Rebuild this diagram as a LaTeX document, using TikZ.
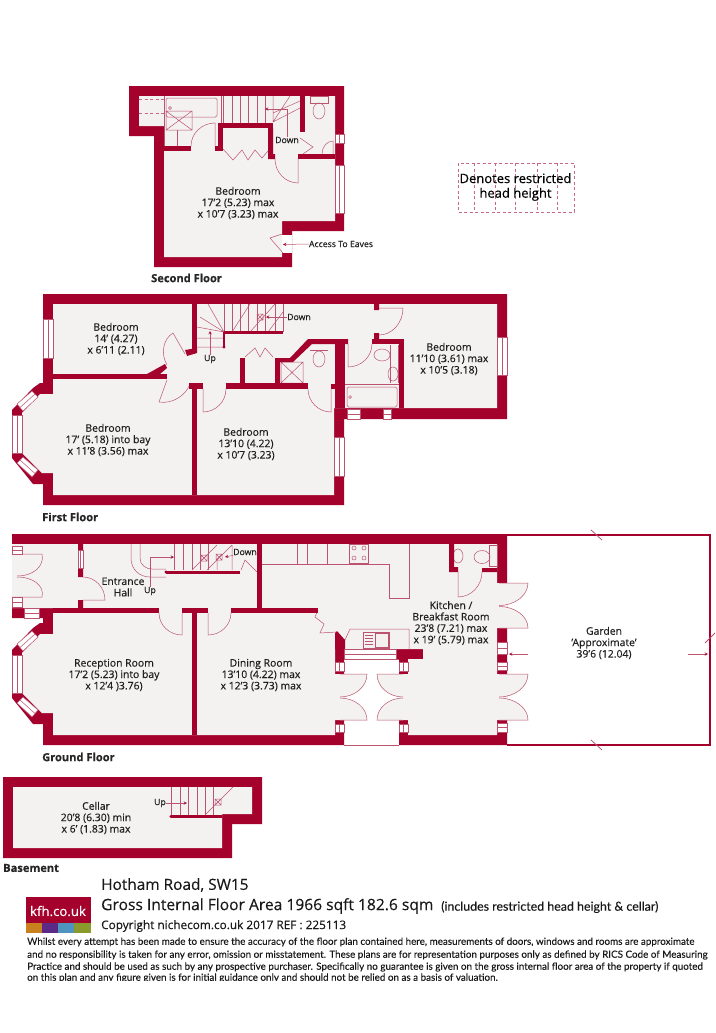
\documentclass[tikz,border=0pt]{standalone}
\usepackage{fontspec}
\defaultfontfeatures{}
\setmainfont{Open Sans}[FakeBold=0.35]
\newfontfamily\footfont{Lato}[FakeBold=0.2]
\usetikzlibrary{calc}
\definecolor{wallred}{HTML}{A5012D}
\definecolor{planred}{HTML}{BC5470}
\definecolor{floorgrey}{HTML}{F3F2F1}
\definecolor{eavepink}{HTML}{C9678A}
\begin{document}
\begin{tikzpicture}[x=1pt,y=-1pt,>=stealth]
 \tikzstyle{wall} = [fill=wallred,draw=none]
 \tikzstyle{floorarea} = [fill=floorgrey,draw=none]
 \tikzstyle{plan} = [draw=planred,line width=0.5pt]
 \tikzstyle{doorline} = [draw=planred,line width=0.5pt,fill=floorgrey]
 \tikzstyle{leader} = [draw=planred,line width=0.5pt,->,>={stealth[wallred]}]
 \tikzstyle{winline} = [draw=planred,line width=0.5pt,fill=white]
 \tikzstyle{roomlabel} = [align=center,inner sep=0,text=black!88,font=\fontsize{10.4}{11.4}\selectfont]
 \tikzstyle{smalllabel} = [inner sep=0,text=black!88,font=\fontsize{8.7}{10}\selectfont]
 \tikzstyle{floorlabel} = [inner sep=0,anchor=west,text=black!85,font=\fontsize{11.1}{13}\bfseries\selectfont]
 \tikzstyle{foottext} = [inner sep=0,anchor=west,text=black!90,font=\footfont\fontsize{9.85}{11}\selectfont]
 \tikzstyle{eaves} = [draw=eavepink,line width=0.6pt,dashed,dash pattern=on 3pt off 2.5pt]
 \newcommand{\doorarc}[3]{\draw[doorline] (#1) -- (#2) .. controls ($(#2)+0.55*(#3)-0.55*(#1)$) and ($(#3)+0.55*(#2)-0.55*(#1)$) .. (#3);}
 \newcommand{\winv}[4]{\draw[winline] (#1,#2) rectangle (#3,#4); \draw[plan] ({(#1+#3)/2},#2) -- ({(#1+#3)/2},#4);}
 \newcommand{\winh}[4]{\draw[winline] (#1,#2) rectangle (#3,#4); \draw[plan] (#1,{(#2+#4)/2}) -- (#3,{(#2+#4)/2});}
 \newcommand{\bayglass}[1]{
  \winv{12}{#1+415}{22}{#1+453}
  \draw[winline] (17,#1+404) -- (32,#1+391) -- (38,#1+397) -- (23,#1+411) -- cycle;
  \draw[plan] (20,#1+407.5) -- (35,#1+394);
  \draw[winline] (17,#1+463) -- (32,#1+477) -- (38,#1+470) -- (23,#1+457) -- cycle;
  \draw[plan] (20,#1+460) -- (35,#1+473.5);
 }
 \newcommand{\crossbox}[4]{\draw[plan] (#1,#2) rectangle (#3,#4) (#1,#2) -- (#3,#4) (#1,#4) -- (#3,#2);}
 \useasboundingbox (0,0) rectangle (715,1033);

 % second floor
 \fill[wall] (129,86) -- (344,86) -- (344,231) -- (292,231) -- (292,267) -- (154,267) -- (154,136) -- (129,136) -- cycle;
 \fill[floorarea] (139,96) -- (335,96) -- (335,221) -- (282,221) -- (282,257) -- (164,257) -- (164,126) -- (139,126) -- cycle;
 \fill[white] (282,234.5) rectangle (292,253);
 \draw[eaves] (139,99) -- (164,99) (139,113) -- (164,113);
 \draw[plan] (164,96) -- (164,146);
 \draw[plan,rounded corners=1.5] (166,98) rectangle (217,117);
 \draw[plan] (170,108) circle (1.6);
 \crossbox{166}{111}{192}{130}
 \draw[plan] (177,130) -- (177,146);
 \foreach \tx in {223,232,240,248,257,265} \draw[plan] (\tx,96) -- (\tx,123);
 \draw[plan] (273,122) -- (290,96) (273,122) -- (300,108) (273,113) -- (300,101) (273,122) -- (273,96);
 \draw[plan] (310,96) rectangle (328,103);
 \draw[plan] (319,111) ellipse (6 and 8);
 \doorarc{215,146}{215,123}{191,146}
 \doorarc{298,159}{298,183}{275,159}
 \doorarc{333,154}{333,141}{322,154}
 \draw[plan] (223,149) -- (233,160) -- (242,150) -- (248,160) -- (255,150) -- (262,158) -- (268,151);
 \draw[plan] (300,138) -- (313,147) -- (303,154);
 \draw[plan] (282,234) -- (270,238) -- (283,253);
 \fill[wall] (164,146) rectangle (191,151);
 \fill[wall] (215,146) rectangle (223,151);
 \fill[wall] (218.3,123) rectangle (223,151);
 \fill[wall] (223,122.7) rectangle (273.3,127.7);
 \fill[wall] (268,128) rectangle (273,155) (268,154) rectangle (275,159);
 \fill[wall] (300,96) rectangle (305,132);
 \fill[wall] (298,154) rectangle (335,159);
 \draw[plan] (221,96) -- (221,123);
 \winv{335}{134}{344}{143}
 \winv{335}{165}{344}{213}
 \node[roomlabel] (bedtop) at (238,203) {Bedroom\\17'2 (5.23) max\\x 10'7 (3.23) max};
 \node[smalllabel] (downtop) at (287,140) {Down};
 \coordinate (downtoptip) at (265,109);
 \draw[leader] (downtop.north) |- (downtoptip);
 \node[smalllabel] (eavelbl) at (341,244) {Access To Eaves};
 \coordinate (eavetip) at (283,244.5);
 \draw[leader] (eavelbl.west) -- (eavetip);
 \node[floorlabel] (secondlbl) at (151,278) {Second Floor};

 % restricted head height key
 \draw[eaves] (458,163) rectangle (574,212);
 \foreach \kx in {474,495,515,537,557} \draw[eaves] (\kx,163) -- (\kx,212);
 \node[align=center,inner sep=0,text=black,font=\fontsize{13}{14.6}\selectfont] (keylbl) at (515.5,187) {Denotes restricted\\head height};

 % first floor
 \fill[wall] (43,294) -- (507,294) -- (507,419) -- (344,419) -- (344,505) -- (43,505) -- (43,484) -- (33,484) -- (12,458) -- (12,410) -- (33,388) -- (40,383) -- (43,383) -- cycle;
 \fill[floorarea] (53,304) -- (497,304) -- (497,408) -- (334,408) -- (334,495) -- (53,495) -- (53,473) -- (42,473) -- (22,453) -- (22,413) -- (40,394) -- (53,394) -- cycle;
 \foreach \tx in {224,232,240,248,257,265,275} \draw[plan] (\tx,304) -- (\tx,332);
 \draw[plan] (224,332) -- (208,304) (224,332) -- (200,317) (224,332) -- (197,327) (197,338) -- (224,338) (197,347) -- (224,347);
 \draw[plan] (232,332) -- (250,304) (250,332) -- (275,304) (268,332) -- (283,312);
 \crossbox{257}{314}{263}{320}
 \draw[plan] (283,304) -- (283,332);
 \draw[plan] (245,357) -- (255,348) -- (260,357) -- (265,348) -- (273,357);
 \crossbox{281}{362}{303}{383}
 \draw[plan] (310,350) -- (328,350);
 \draw[plan] (319,359) ellipse (6 and 8);
 \doorarc{185,354}{173,333}{167,365}
 \doorarc{167,380}{159,402}{190,384}
 \doorarc{203,389}{203,412}{226,389}
 \doorarc{331,389}{331,412}{308,389}
 \doorarc{348,344}{348,367}{372,344}
 \doorarc{379,308}{403,308}{379,335}
 \draw[plan,rounded corners=1.5] (347,387) rectangle (397,407);
 \draw[plan] (345,384) -- (399,384);
 \draw[plan] (350,397) circle (1.4);
 \draw[plan] (390,345) -- (390,383) (398,345) -- (398,383);
 \draw[plan] (382,355) ellipse (8 and 6);
 \draw[plan] (393,374) ellipse (5 and 7);
 \fill[wall] (192,304) rectangle (197,350);
 \fill[wall] (185,350) -- (197,348) -- (197,353) -- (187,356) -- cycle;
 \fill[wall] (53,374) rectangle (167,379);
 \fill[wall] (147,374) -- (165,364) -- (167,368) -- (160,374) -- cycle;
 \fill[wall] (189,383) rectangle (203,389);
 \fill[wall] (192,389) rectangle (197,495);
 \fill[wall] (226,383) rectangle (308,389);
 \fill[wall] (240,358) rectangle (245,383);
 \fill[wall] (275,358) -- (290,358) -- (308,339) -- (348,339) -- (348,344) -- (312,344) -- (293,362) -- (280,362) -- (280,383) -- (275,383) -- cycle;
 \fill[wall] (334.5,344) rectangle (344.5,408);
 \fill[wall] (331,384) rectangle (344,389);
 \fill[wall] (372,339) rectangle (404,344);
 \fill[wall] (374,304) rectangle (379,310) (374,333) rectangle (379,340);
 \fill[wall] (399,340) rectangle (404,408);
 \fill[wall] (224,330.5) rectangle (283,333.5);
 \fill[wall] (223.2,332) rectangle (224.8,347);
 \fill[wall] (224,347) circle (1.7);
 \winv{43}{319}{53}{358}
 \winv{334.5}{437}{344}{476}
 \winh{347}{409}{360}{419}
 \winh{383}{409}{391}{419}
 \winv{497}{337}{507}{375}
 \bayglass{0}
 \node[roomlabel] (bedfour) at (116,339) {Bedroom\\14' (4.27)\\x 6'11 (2.11)};
 \node[roomlabel] (bedfive) at (108,440) {Bedroom\\17' (5.18) into bay\\x 11'8 (3.56) max};
 \node[roomlabel] (bedsix) at (246,444) {Bedroom\\13'10 (4.22)\\x 10'7 (3.23)};
 \node[roomlabel] (bedseven) at (449,359) {Bedroom\\11'10 (3.61) max\\x 10'5 (3.18)};
 \node[smalllabel] (upfirst) at (210,359) {Up};
 \coordinate (upfirsttip) at (210,331);
 \draw[leader] (upfirst.north) -- (upfirsttip);
 \node[smalllabel] (downfirst) at (299,317) {Down};
 \coordinate (downfirsttip) at (266,317);
 \draw[leader] (downfirst.west) -- (downfirsttip);
 \node[floorlabel] (firstlbl) at (42,517) {First Floor};

 % ground floor
 \fill[wall] (12,534) -- (507,534) -- (507,745) -- (399,745) -- (399,659) -- (344,659) -- (344,745) -- (43,745) -- (43,724) -- (33,724) -- (12,698) -- (12,650) -- (33,628) -- (40,623) -- (43,623) -- (43,618) -- (12,618) -- cycle;
 \fill[floorarea] (12,544) -- (497,544) -- (497,735) -- (408,735) -- (408,659) -- (423,659) -- (423,649) -- (345,649) -- (345,640) -- (335,633) -- (335,735) -- (53,735) -- (53,713) -- (42,713) -- (22,693) -- (22,653) -- (40,634) -- (53,634) -- (53,608) -- (12,608) -- cycle;
 \fill[floorarea] (497,583) rectangle (507,628) (497,674) rectangle (507,720) (335,674) rectangle (344,720) (399,674) rectangle (408,720);
 \draw[plan] (344,659) -- (399,659) (344,745) -- (399,745);
 \draw[wallred,line width=1.2pt] (507,535) -- (710,535) -- (710,745) -- (507,745);
 \draw[plan,line width=0.8pt] (591,530) -- (602,540) (591,740) -- (602,750) (705,643) -- (715,633);
 \foreach \tx in {174,183,192,200,208} \draw[plan] (\tx,544) -- (\tx,570);
 \draw[plan] (131,544) -- (131,558) .. controls (131,570) and (140,577) .. (150,577) -- (166,577);
 \draw[plan] (140,544) -- (140,558) .. controls (140,565) and (146,569) .. (152,569) -- (166,569);
 \draw[plan] (192,570) -- (217,545) (207,570) -- (232,545) (217,570) -- (217,560) (232,570) -- (232,545);
 \crossbox{201}{555}{207}{561}
 \crossbox{216}{554}{222}{560}
 \draw[plan] (241,570) -- (245,560) -- (257,572);
 \draw[plan] (262,564) -- (389,564) -- (389,598) -- (409,598) -- (409,544);
 \foreach \tx in {297,307,327} \draw[plan] (\tx,544) -- (\tx,564);
 \draw[plan] (349,544) rectangle (368,563);
 \foreach \hx/\hy in {354/548,364/548,354/558,364/558} \draw[plan] (\hx,\hy) circle (2);
 \draw[plan] (345,640) -- (350,629) -- (409,629) -- (409,649);
 \draw[plan] (363,632) rectangle (389,648) (375,633) rectangle (388,647);
 \foreach \sy in {635,638,641,644} \draw[plan] (365,\sy) -- (373,\sy);
 \draw[plan] (318,610) -- (315,617) -- (324,624) -- (320,633) -- (337,632);
 \draw[plan] (458,556) ellipse (5 and 7);
 \draw[plan] (482,557) ellipse (8 and 6.5);
 \draw[plan] (489,545) rectangle (497,566);
 \doorarc{83,600}{105,600}{83,577}
 \doorarc{12,554}{42,554}{17,576}
 \doorarc{12,597}{42,597}{17,577}
 \doorarc{182,613}{182,635}{159,613}
 \doorarc{208,613}{208,635}{231,613}
 \doorarc{458,572}{458,597}{482,572}
 \doorarc{499,583}{528,583}{499,605.5}
 \doorarc{499,628}{528,628}{499,606.5}
 \doorarc{499,674}{528,674}{499,697}
 \doorarc{499,720}{528,720}{499,698}
 \doorarc{340,674}{367,674}{340,697}
 \doorarc{340,720}{367,720}{340,698}
 \doorarc{403,674}{377,674}{403,697}
 \doorarc{403,720}{377,720}{403,698}
 \fill[wall] (53,608) rectangle (159,613);
 \fill[wall] (182,608) rectangle (208,613);
 \fill[wall] (192,613) rectangle (197,735);
 \fill[wall] (231,608) rectangle (318,613);
 \fill[wall] (257,544) rectangle (262,608);
 \fill[wall] (78,544) rectangle (83,550) (78,568) rectangle (83,577) (78,600) rectangle (83,608);
 \fill[wall] (449,544) rectangle (454,572) (449,567) rectangle (458,572) (482,568) rectangle (497,572);
 \fill[wall] (335,633) -- (337,631) -- (345,640) -- (345,649) -- (335,649) -- cycle;
 \fill[wall] (166,570.5) rectangle (240,573.5);
 \fill[wall] (166,572) circle (1.7);
 \winv{78}{550}{83}{568}
 \winh{12}{546}{22}{554}
 \winh{12}{597}{22}{607}
 \winh{24}{608}{39}{618}
 \winh{344}{649}{396}{659}
 \winv{335}{662}{344}{671}
 \winv{335}{724}{344}{732}
 \winv{399}{662}{408}{671}
 \winv{399}{724}{408}{732}
 \winh{497}{642}{507}{654}
 \winh{497}{662}{507}{670}
 \winh{497}{723}{507}{732}
 \bayglass{240}
 \node[roomlabel] (hall) at (123,587) {Entrance\\Hall};
 \node[roomlabel] (reception) at (114,675) {Reception Room\\17'2 (5.23) into bay\\x 12'4 )3.76)};
 \node[roomlabel] (dining) at (261,675) {Dining Room\\13'10 (4.22) max\\x 12'3 (3.73) max};
 \node[roomlabel] (kitchen) at (451,623) {Kitchen /\\Breakfast Room\\23'8 (7.21) max\\x 19' (5.79) max};
 \node[roomlabel] (garden) at (604,643) {Garden\\'Approximate'\\39'6 (12.04)};
 \node[smalllabel] (upground) at (150,591) {Up};
 \coordinate (upgroundtip) at (174,557);
 \draw[leader] (upground.north) |- (upgroundtip);
 \node[smalllabel] (downground) at (245,552) {Down};
 \coordinate (downgroundtip) at (225,557);
 \draw[leader] (downground.south west) -- (downgroundtip);
 \coordinate (gardenleftend) at (528,654);
 \coordinate (gardenlefttip) at (509,654);
 \coordinate (gardenrightend) at (688,654);
 \coordinate (gardenrighttip) at (708,654);
 \draw[leader] (gardenleftend) -- (gardenlefttip);
 \draw[leader] (gardenrightend) -- (gardenrighttip);
 \node[floorlabel] (groundlbl) at (42,757) {Ground Floor};

 % basement
 \fill[wall] (3,777) -- (262,777) -- (262,824) -- (232,824) -- (232,858) -- (3,858) -- cycle;
 \fill[floorarea] (13,787) -- (252,787) -- (252,814) -- (222,814) -- (222,848) -- (13,848) -- cycle;
 \foreach \tx in {171,180,188,197,205,213} \draw[plan] (\tx,787) -- (\tx,815);
 \draw[plan] (205,815) -- (233,787);
 \crossbox{215}{799}{221}{805}
 \fill[wall] (171,815) rectangle (222,818);
 \fill[wall] (171,816.5) circle (1.7);
 \node[roomlabel] (cellar) at (96,818) {Cellar\\20'8 (6.30) min\\x 6' (1.83) max};
 \node[smalllabel] (upcellar) at (160,803) {Up};
 \coordinate (upcellartip) at (187,803);
 \draw[leader] (upcellar.east) -- (upcellartip);
 \node[floorlabel] (baselbl) at (3,868) {Basement};

 % footer
 \fill[wallred] (26,897) rectangle (90.5,923);
 \foreach \sx/\sc in {26/C8811E,42/5B2A86,58/4F93BF,74/8A9A2C} {
  \definecolor{stripcol}{HTML}{\sc}
  \fill[stripcol] (\sx,923) rectangle (\sx+16.5,933);
 }
 \node[inner sep=0,text=white,font=\fontsize{13.2}{16}\selectfont] (logo) at (58,911) {kfh.co.uk};
 \node[inner sep=0,anchor=west,text=black!90,font=\fontsize{15.4}{17}\selectfont] (address) at (101,885) {Hotham Road, SW15};
 \node[inner sep=0,anchor=west,text=black!90,font=\fontsize{15.6}{17}\selectfont] (area) at (101,906) {Gross Internal Floor Area 1966 sqft 182.6 sqm};
 \node[inner sep=0,anchor=west,text=black!90,font=\footfont\fontsize{12.4}{14}\selectfont] (areanote) at (441,907) {(includes restricted head height \& cellar)};
 \node[inner sep=0,anchor=west,text=black!90,font=\fontsize{11.8}{14}\selectfont] (copyline) at (101,926) {Copyright nichecom.co.uk 2017 REF : 225113};
 \node[foottext] (dis1) at (27,942) {Whilst every attempt has been made to ensure the accuracy of the floor plan contained here, measurements of doors, windows and rooms are approximate};
 \node[foottext] (dis2) at (27,955) {and no responsibility is taken for any error, omission or misstatement.  These plans are for representation purposes only as defined by RICS Code of Measuring};
 \node[foottext] (dis3) at (27,967) {Practice and should be used as such by any prospective purchaser.  Specifically no guarantee is given on the gross internal floor area of the property if quoted};
 \node[foottext] (dis4) at (27,978) {on this plan and any figure given is for initial guidance only and should not be relied on as a basis of valuation.};
 \fill[white] (0,980.5) rectangle (715,1033);
\end{tikzpicture}
\end{document}
